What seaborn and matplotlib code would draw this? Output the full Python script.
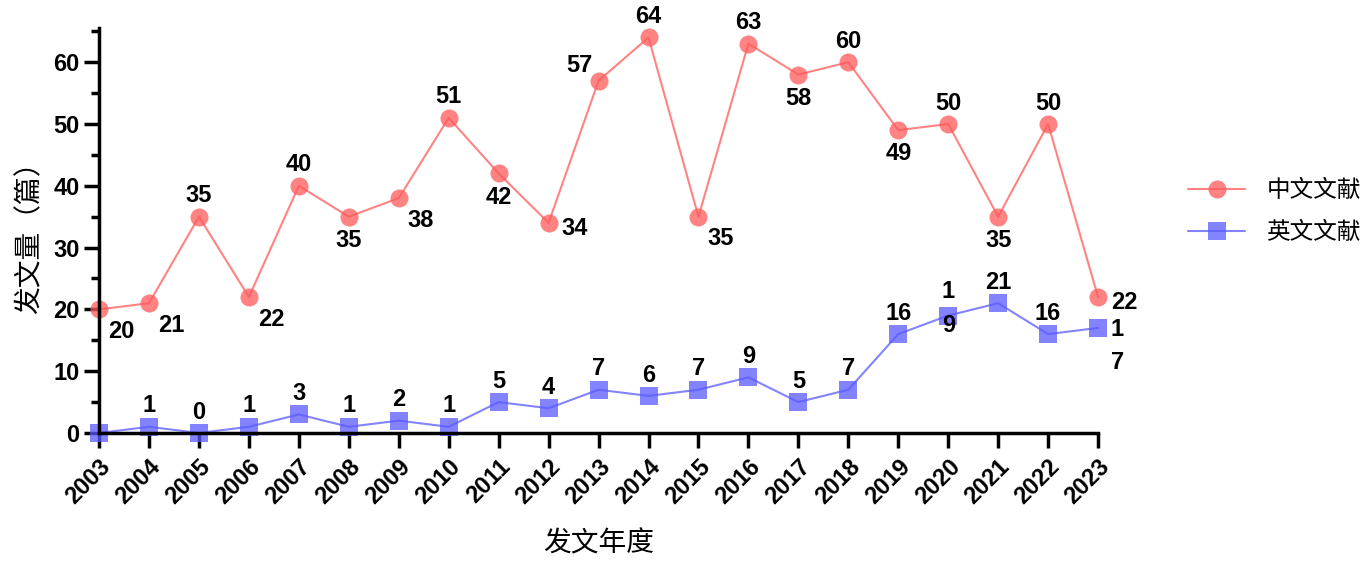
import matplotlib.pyplot as plt
import matplotlib.ticker as mticker
import pandas as pd
import seaborn as sns

years = list(range(2003, 2024))
cn_counts = [20, 21, 35, 22, 40, 35, 38, 51, 42, 34, 57, 64, 35, 63, 58, 60, 49, 50, 35, 50, 22]
en_counts = [0, 1, 0, 1, 3, 1, 2, 1, 5, 4, 7, 6, 7, 9, 5, 7, 16, 19, 21, 16, 17]
cn_name = '中文文献'
en_name = '英文文献'

# label placement (offset in points from the marker)
A, B, BR, R, AL = (0, 15), (0, -17), (16, -16), (19, -4), (-14, 11)
cn_offsets = [BR, BR, A, BR, A, B, BR, A, B, R, AL, A, BR, A, B, A, B, A, B, A, R]
en_offsets = [None] + [A] * 20
en_offsets[17] = (0, 5)     # 2020, wrapped label
en_offsets[20] = (14, -13)  # 2023, wrapped label

sns.set_theme(style='ticks')
plt.rcParams['font.family'] = ['Liberation Sans', 'Noto Sans CJK SC', 'DejaVu Sans']
plt.rcParams.update({'text.color': 'black', 'axes.labelcolor': 'black',
                     'xtick.color': 'black', 'ytick.color': 'black'})

df = pd.DataFrame({'year': years * 2,
                   'count': cn_counts + en_counts,
                   'type': [cn_name] * len(years) + [en_name] * len(years)})

fig = plt.figure(figsize=(13.7, 5.64), dpi=100)
ax = fig.add_axes([0.0723, 0.2323, 0.7292, 0.7177])

palette = {cn_name: '#FF5A5A', en_name: '#5A5AFF'}
sns.lineplot(data=df, x='year', y='count', hue='type', style='type',
             markers={cn_name: 'o', en_name: 's'}, dashes=False, palette=palette,
             markersize=13, linewidth=1.5, alpha=0.75, markeredgewidth=0,
             ax=ax, legend=False)
for ln in ax.lines:
    ln.set_clip_on(False)

for yr, v, off in zip(years, cn_counts, cn_offsets):
    ax.annotate(str(v), (yr, v), xytext=off, textcoords='offset points',
                ha='center', va='center', fontsize=17, fontweight='bold')
for yr, v, off in zip(years, en_counts, en_offsets):
    if off is None:
        continue
    txt = str(v)
    if yr in (2020, 2023):
        txt = '\n'.join(str(v))
    ax.annotate(txt, (yr, v), xytext=off, textcoords='offset points',
                ha='center', va='center', fontsize=17, fontweight='bold',
                linespacing=1.6)

ax.set_xlim(2003, 2023)
ax.set_ylim(0, 65.5)
ax.set_xticks(years)
ax.set_xticklabels([str(y) for y in years], rotation=45, ha='right',
                   rotation_mode='anchor', fontsize=17, fontweight='bold')
ax.set_yticks(range(0, 61, 10))
ax.yaxis.set_minor_locator(mticker.MultipleLocator(5))
for lab in ax.get_yticklabels():
    lab.set_fontweight('bold')
    lab.set_fontsize(17)
ax.tick_params(axis='both', which='major', width=2.5, length=11, color='black')
ax.tick_params(axis='y', which='minor', width=2.5, length=6, color='black')
ax.tick_params(axis='x', which='major', pad=5)
ax.tick_params(axis='y', which='major', pad=3)

sns.despine(ax=ax)
for s in ('left', 'bottom'):
    ax.spines[s].set_linewidth(2.5)
    ax.spines[s].set_color('black')

ax.set_xlabel('发文年度', fontsize=20, family=['Noto Sans CJK SC'], labelpad=14)
ax.set_ylabel('发文量（篇）', fontsize=20, family=['Noto Sans CJK SC'], labelpad=6)

handles = [plt.Line2D([], [], color=palette[cn_name], marker='o', markersize=13,
                      markeredgewidth=0, alpha=0.75, linewidth=1.5),
           plt.Line2D([], [], color=palette[en_name], marker='s', markersize=13,
                      markeredgewidth=0, alpha=0.75, linewidth=1.5)]
fig.legend(handles, [cn_name, en_name], loc='center left',
           bbox_to_anchor=(0.852, 0.625), frameon=False, handlelength=2.4,
           handletextpad=0.9, labelspacing=0.8,
           prop={'family': 'Noto Sans CJK SC', 'size': 17})

fig.savefig('out.png', dpi=100)
